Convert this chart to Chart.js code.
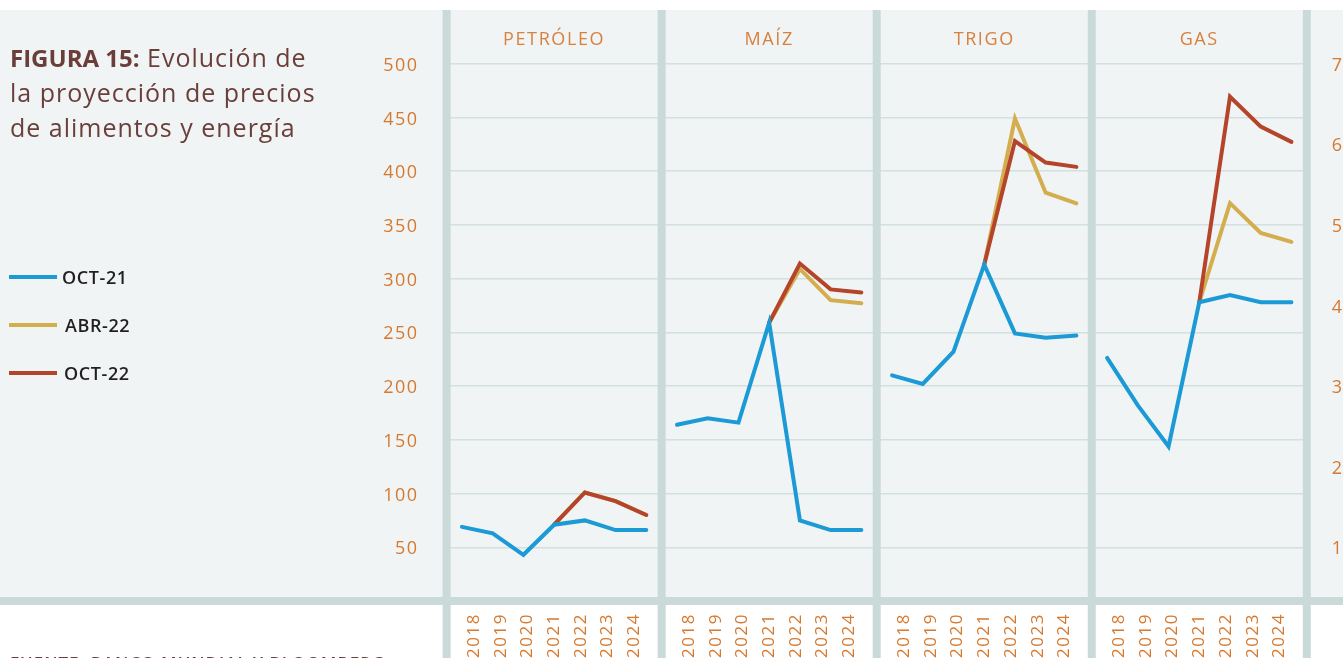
<!DOCTYPE html>
<html><head><meta charset="utf-8">
<script src="https://cdn.jsdelivr.net/npm/chart.js@4"></script>
<style>
html,body{margin:0;padding:0;background:#fff;overflow:hidden}
#wrap{position:relative;width:1343px;height:658px;font-family:"Open Sans",sans-serif}
canvas{position:absolute;left:0;top:0}
.title{position:absolute;left:10px;top:40px;font-size:25px;line-height:35px;letter-spacing:1px;color:#6b3e3a;white-space:nowrap}
.title b{font-weight:700;letter-spacing:0;font-size:24px}
.leg{position:absolute;left:9px;height:20px;display:flex;align-items:center;font-weight:600;font-size:18px;letter-spacing:0.6px;color:#231f20}
.leg i{display:inline-block;width:48px;height:4px;margin-right:5px}
.ptitle{position:absolute;top:26px;width:200px;text-align:center;font-size:18px;letter-spacing:1.6px;color:#d8803e}
.src{position:absolute;left:10px;top:651px;font-size:17px;font-weight:600;color:#6b3e3a;letter-spacing:1px;white-space:nowrap}
</style></head>
<body><div id="wrap">
<canvas id="c" width="1343" height="658"></canvas>
<div class="title"><b>FIGURA 15:</b> Evolución de<br>la proyección de precios<br>de alimentos y energía</div>
<div id="legend"></div>
<div id="ptitles"></div>
<div class="src">FUENTE: BANCO MUNDIAL Y BLOOMBERG</div>
</div>
<script>
const years = ['2018','2019','2020','2021','2022','2023','2024'];
const panels = ['PETRÓLEO','MAÍZ','TRIGO','GAS'];
const series = ['OCT-21','ABR-22','OCT-22'];
const leftTicks = [50,100,150,200,250,300,350,400,450,500];
const rightTicks = [1,2,3,4,5,6,7];

const petroleoOct21 = [69,63,43,71,75,66,66];
const petroleoAbr22 = [null,null,null,71,101,93,80];
const petroleoOct22 = [null,null,null,71,101,93,80];
const maizOct21 = [164,170,166,259,75,66,66];
const maizAbr22 = [null,null,null,259,309,280,277];
const maizOct22 = [null,null,null,259,314,290,287];
const trigoOct21 = [210,202,232,313,249,245,247];
const trigoAbr22 = [null,null,null,313,449,380,370];
const trigoOct22 = [null,null,null,313,428,408,404];
const gasOct21 = [3.35,2.76,2.25,4.04,4.13,4.04,4.04];
const gasAbr22 = [null,null,null,4.04,5.27,4.90,4.79];
const gasOct22 = [null,null,null,4.04,6.59,6.22,6.03];

const W = 1343, H = 658;
const colors = ['#1b9ad6','#d4ad4f','#b5452a'];
const orders = [0,2,1];
const tickColor = '#d6792f';
const labelSpread = 0.87; // year labels are set a little tighter than the points
const table = [
  [petroleoOct21, petroleoAbr22, petroleoOct22],
  [maizOct21, maizAbr22, maizOct22],
  [trigoOct21, trigoAbr22, trigoOct22],
  [gasOct21, gasAbr22, gasOct22]
];
const n = years.length;
const datasets = [];
table.forEach((rows, p) => rows.forEach((vals, s) => {
  datasets.push({
    label: series[s] + ' ' + panels[p],
    data: vals.map((v, i) => ({x: p * n + i, y: v})).filter(d => d.y !== null),
    xAxisID: 'x',
    yAxisID: p === 3 ? 'y2' : 'y',
    borderColor: colors[s], backgroundColor: colors[s],
    borderWidth: 4, pointRadius: 0, pointHoverRadius: 0, tension: 0, fill: false,
    borderCapStyle: 'round', order: orders[s]
  });
}));

const labelTicks = [];
panels.forEach((p, k) => years.forEach((y, i) => {
  labelTicks.push({value: k * n + (n - 1) / 2 + (i - (n - 1) / 2) * labelSpread, label: y});
}));

const bgPlugin = {
  id: 'bg',
  beforeDraw(chart) {
    const c = chart.ctx;
    c.save();
    c.fillStyle = '#ffffff'; c.fillRect(0, 0, W, H);
    c.fillStyle = '#f0f4f5'; c.fillRect(0, 10, W, 587);
    c.restore();
    c.letterSpacing = '1.5px';
  },
  beforeDatasetsDraw(chart) {
    const c = chart.ctx, xs = chart.scales.x; c.save();
    c.fillStyle = '#c9dad8';
    for (let k = 0; k <= panels.length; k++) {
      const px = xs.getPixelForValue(k * n - 0.5);
      c.fillRect(px - 4, 10, 8, H - 10);
    }
    c.fillRect(0, 597, W, 8);
    c.restore();
  }
};

const zeroPad = s => { s.paddingTop = 0; s.paddingBottom = 0; s.paddingLeft = 0; s.paddingRight = 0; };

const chart = new Chart(document.getElementById('c'), {
  type: 'line',
  data: { datasets },
  options: {
    responsive: false, animation: false, devicePixelRatio: 1,
    layout: { padding: { top: 10, left: 0, right: 0, bottom: 0 } },
    plugins: { legend: { display: false }, tooltip: { enabled: false } },
    scales: {
      x: {
        type: 'linear', min: -0.5, max: panels.length * n - 0.5, display: false
      },
      xl: {
        type: 'linear', position: 'bottom', min: -0.5, max: panels.length * n - 0.5,
        afterBuildTicks: s => { s.ticks = labelTicks.map(t => ({value: t.value})); },
        afterFit: s => { s.height = 57; zeroPad(s); },
        grid: { display: false, drawTicks: false }, border: { display: false },
        ticks: {
          autoSkip: false, minRotation: 90, maxRotation: 90, padding: 12,
          color: tickColor, font: { family: 'Open Sans', size: 17 },
          callback: (v, i) => labelTicks[i].label
        }
      },
      y: {
        position: 'left', min: 0, max: 550,
        afterBuildTicks: s => { s.ticks = leftTicks.map(v => ({value: v})); },
        afterFit: s => { s.width = 446.6; zeroPad(s); },
        grid: { color: '#d2e0de', lineWidth: 1.5, drawTicks: false }, border: { display: false },
        ticks: { padding: 28, labelOffset: 2, color: tickColor, font: { family: 'Open Sans', size: 18 } }
      },
      y2: {
        position: 'right', min: 1/3, max: 23/3,
        afterBuildTicks: s => { s.ticks = rightTicks.map(v => ({value: v})); },
        afterFit: s => { s.width = W - 1306.8; zeroPad(s); },
        grid: { display: false, drawTicks: false }, border: { display: false },
        ticks: { padding: 25, labelOffset: 2, color: tickColor, font: { family: 'Open Sans', size: 18 } }
      }
    }
  },
  plugins: [bgPlugin]
});

// legend
const legY = [277, 325, 373];
const legGap = [5, 8, 7];
const leg = document.getElementById('legend');
series.forEach((s, i) => {
  const d = document.createElement('div');
  d.className = 'leg'; d.style.top = (legY[i] - 10) + 'px';
  d.innerHTML = '<i style="background:' + colors[i] + ';margin-right:' + legGap[i] + 'px"></i>' + s;
  leg.appendChild(d);
});
// panel titles
const pt = document.getElementById('ptitles');
const xs = chart.scales.x;
panels.forEach((p, k) => {
  const d = document.createElement('div');
  d.className = 'ptitle';
  d.style.left = (xs.getPixelForValue(k * n + (n - 1) / 2) - 100) + 'px';
  d.textContent = p;
  pt.appendChild(d);
});
</script>
</body></html>
